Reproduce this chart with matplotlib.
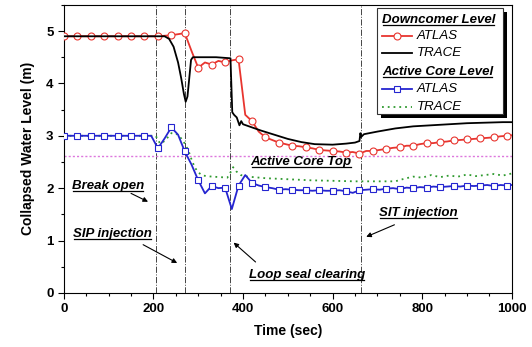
import numpy as np
import matplotlib
matplotlib.use('Agg')
import matplotlib.pyplot as plt
from matplotlib.lines import Line2D
from matplotlib.patches import Rectangle

plt.rcParams['font.family'] = ['Liberation Sans', 'DejaVu Sans']
plt.rcParams['font.weight'] = 'bold'

# ATLAS data sampled every 15 s (plus the final 1000 s point)
atlas_t = np.append(np.arange(0, 1000, 15), 1000)
dc_atlas = [4.90, 4.90, 4.90, 4.90, 4.90, 4.90, 4.90, 4.90, 4.90, 4.90,
            4.90, 4.90, 4.90, 4.90, 4.90, 4.91, 4.92, 4.94, 4.96, 4.62,
            4.30, 4.40, 4.36, 4.43, 4.40, 4.44, 4.46, 3.40, 3.28, 3.08,
            2.97, 2.92, 2.87, 2.84, 2.81, 2.80, 2.78, 2.76, 2.73, 2.72,
            2.71, 2.70, 2.68, 2.69, 2.66, 2.71, 2.71, 2.73, 2.75, 2.77,
            2.78, 2.81, 2.81, 2.84, 2.86, 2.86, 2.88, 2.89, 2.91, 2.92,
            2.93, 2.94, 2.95, 2.96, 2.97, 2.99, 3.00, 3.01]
ac_atlas = [3.00, 3.00, 3.00, 3.00, 3.00, 3.00, 3.00, 3.00, 3.00, 3.00,
            3.00, 3.00, 3.00, 3.00, 2.76, 2.95, 3.16, 3.02, 2.70, 2.45,
            2.15, 1.90, 2.04, 2.00, 2.01, 1.60, 2.05, 2.25, 2.10, 2.05,
            2.02, 2.00, 1.97, 1.98, 1.97, 1.96, 1.96, 1.95, 1.96, 1.95,
            1.95, 1.96, 1.94, 1.91, 1.96, 1.97, 1.98, 1.97, 1.99, 2.00,
            1.98, 2.01, 2.00, 2.02, 2.01, 2.03, 2.02, 2.03, 2.04, 2.03,
            2.05, 2.04, 2.05, 2.06, 2.04, 2.06, 2.05, 2.06]

# TRACE results
dc_trace_t = [0, 225, 235, 245, 255, 262, 268, 272, 276, 280, 284, 288, 300,
              340, 372, 376, 380, 386, 392, 396, 400, 420, 440, 470, 500, 530,
              560, 600, 630, 650, 660, 662, 664, 670, 700, 740, 780, 820, 860,
              900, 940, 980, 1000]
dc_trace = [4.90, 4.90, 4.85, 4.70, 4.40, 4.10, 3.80, 3.65, 3.75, 4.10, 4.45,
            4.50, 4.50, 4.50, 4.48, 3.45, 3.40, 3.35, 3.20, 3.28, 3.22, 3.16,
            3.10, 3.02, 2.94, 2.88, 2.84, 2.83, 2.85, 2.87, 2.90, 3.05, 2.98,
            3.03, 3.08, 3.14, 3.18, 3.20, 3.22, 3.24, 3.25, 3.26, 3.26]
ac_trace_t = [0, 205, 215, 225, 240, 250, 262, 270, 278, 285, 292, 300, 310,
              330, 350, 365, 372, 378, 385, 395, 410, 450, 500, 550, 600, 650,
              700, 740, 760, 780, 800, 820, 840, 860, 880, 900, 920, 940, 960,
              980, 1000]
ac_trace = [3.00, 3.00, 2.85, 2.90, 3.05, 3.05, 2.95, 2.85, 2.72, 2.55, 2.40,
            2.30, 2.24, 2.22, 2.21, 2.20, 2.30, 2.40, 2.32, 2.25, 2.22, 2.19,
            2.17, 2.15, 2.14, 2.13, 2.13, 2.13, 2.18, 2.22, 2.20, 2.25, 2.21,
            2.24, 2.22, 2.26, 2.23, 2.25, 2.27, 2.24, 2.28]

core_top = 2.62
event_times = [205, 270, 370, 663]

# annotations: text, text position, arrow tail, arrow head
notes = [('Break open', (18, 2.05), (150, 1.90), (188, 1.74)),
         ('SIP injection', (20, 1.13), (177, 0.92), (253, 0.57)),
         ('Loop seal clearing', (413, 0.34), (428, 0.59), (379, 0.96)),
         ('SIT injection', (704, 1.53), (738, 1.30), (675, 1.07))]

fig = plt.figure(figsize=(5.32, 3.47), dpi=100)
ax = fig.add_axes([0.120, 0.156, 0.842, 0.830])

red = '#e8352f'
blue = '#2525d0'
green = '#2f9a2f'

for t in event_times:
    ax.axvline(t, color='#444444', lw=0.7, ls='-.', zorder=1)
ax.axhline(core_top, color='#dd77dd', lw=1.0, ls=(0, (1.5, 1.5)), zorder=1)

ax.plot(ac_trace_t, ac_trace, color=green, lw=1.3, ls=(0, (1, 2.2)), zorder=2)
ax.plot(atlas_t, ac_atlas, color=blue, lw=1.3, marker='s', ms=5,
        mfc='white', mec=blue, mew=0.8, markevery=2, zorder=3)
ax.plot(dc_trace_t, dc_trace, color='black', lw=1.3, zorder=4)
ax.plot(atlas_t, dc_atlas, color=red, lw=1.3, marker='o', ms=5,
        mfc='white', mec=red, mew=0.8, markevery=2, zorder=3)

ax.set_xlim(0, 1000)
ax.set_ylim(0, 5.5)
ax.set_xticks([0, 200, 400, 600, 800, 1000])
ax.set_yticks([0, 1, 2, 3, 4, 5])
ax.set_xticks(np.arange(0, 1001, 50), minor=True)
ax.set_yticks(np.arange(0, 5.6, 0.5), minor=True)
ax.tick_params(direction='out', labelsize=9.5, length=4, width=0.8)
ax.tick_params(which='minor', direction='out', length=2.5, width=0.8)
for s in ax.spines.values():
    s.set_linewidth(0.8)
ax.set_xlabel('Time (sec)', fontsize=10, fontweight='bold', labelpad=6)
ax.set_ylabel('Collapsed Water Level (m)', fontsize=10, fontweight='bold',
              labelpad=8)

under = []
for txt, pos, tail, head in notes:
    under.append(ax.text(pos[0], pos[1], txt, fontsize=9.5, fontweight='bold',
                         style='italic', va='center', ha='left', zorder=6))
    ax.annotate('', xy=head, xytext=tail,
                arrowprops=dict(arrowstyle='-|>', color='black', lw=0.8,
                                mutation_scale=7, shrinkA=0, shrinkB=0))
under.append(ax.text(417, 2.49, 'Active Core Top', fontsize=9.5,
                     fontweight='bold', style='italic', va='center',
                     ha='left', zorder=6))

# legend box drawn by hand (headers are underlined and aligned left)
lx0, lx1, ly0, ly1 = 0.699, 0.980, 0.622, 0.990
ax.add_patch(Rectangle((lx0 + 0.009, ly0 - 0.014), lx1 - lx0, ly1 - ly0,
                       transform=ax.transAxes, facecolor='black',
                       edgecolor='none', zorder=7))
ax.add_patch(Rectangle((lx0, ly0), lx1 - lx0, ly1 - ly0,
                       transform=ax.transAxes, facecolor='white',
                       edgecolor='#333333', lw=0.8, zorder=8))
rows = [('Downcomer Level', None, 0.948),
        ('ATLAS', dict(color=red, marker='o', mfc='white', mec=red), 0.892),
        ('TRACE', dict(color='black'), 0.833),
        ('Active Core Level', None, 0.767),
        ('ATLAS', dict(color=blue, marker='s', mfc='white', mec=blue), 0.708),
        ('TRACE', dict(color=green, ls=(0, (1, 2.2))), 0.646)]
for label, style, y in rows:
    if style is None:
        under.append(ax.text(0.710, y, label, transform=ax.transAxes,
                             fontsize=9.5, fontweight='bold', style='italic',
                             va='center', ha='left', zorder=9))
    else:
        ax.add_line(Line2D([0.710, 0.743, 0.777], [y, y, y],
                           transform=ax.transAxes, lw=1.3, ms=5, mew=0.8,
                           markevery=[1], zorder=9, **style))
        ax.text(0.788, y, label, transform=ax.transAxes, fontsize=9.5,
                fontweight='normal', style='italic', va='center', ha='left',
                zorder=9)

# underline texts
fig.canvas.draw()
r = fig.canvas.get_renderer()
inv = fig.transFigure.inverted()
for t in under:
    bb = t.get_window_extent(r)
    (x0, y0), (x1, _) = inv.transform([[bb.x0 + 1, bb.y0 + 1], [bb.x1 - 1, bb.y0]])
    fig.add_artist(Line2D([x0, x1], [y0, y0], transform=fig.transFigure,
                          color='black', lw=0.9, zorder=10))

plt.savefig('out.png', dpi=100)
